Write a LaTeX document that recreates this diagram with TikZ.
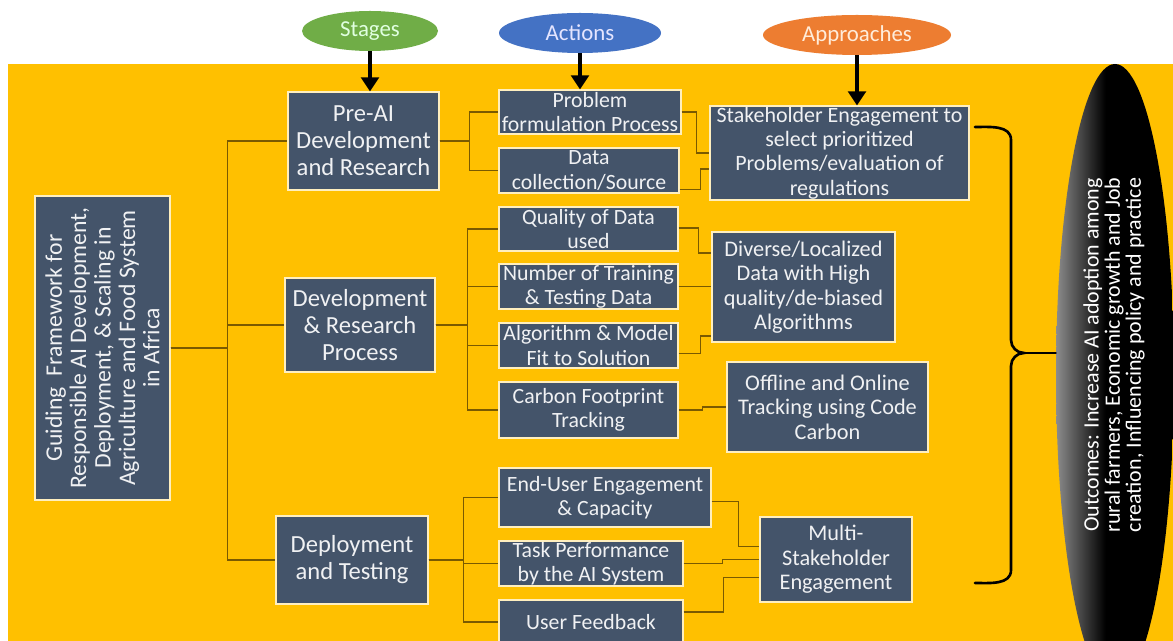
\documentclass[tikz,border=0pt]{standalone}
\usepackage{fontspec}
\setmainfont{Carlito}
\usetikzlibrary{arrows.meta,shapes.geometric}
\definecolor{bgorange}{HTML}{FFC000}
\definecolor{slate}{HTML}{44546A}
\definecolor{linkbrown}{HTML}{7A5A00}
\definecolor{stagegreen}{HTML}{70AD47}
\definecolor{actionblue}{HTML}{4472C4}
\definecolor{approachorange}{HTML}{ED7D31}
\pgfdeclarehorizontalshading{outshade}{100bp}{color(0bp)=(black!45); color(25bp)=(black!45);
  color(46bp)=(black); color(100bp)=(black)}
\tikzset{
  wh/.style 2 args={minimum width=#1*0.02cm, minimum height=#2*0.02cm},
  box/.style={draw=white!75!bgorange, line width=0.6pt, fill=slate, text=white!92!slate,
    align=center, inner sep=0pt, font=\fontsize{12.4}{13.7}\selectfont},
  stagebox/.style={box, font=\fontsize{14}{15.4}\selectfont},
  appbox/.style={box, font=\fontsize{12.7}{13.9}\selectfont},
  tag/.style={ellipse, inner sep=0pt, font=\fontsize{13}{14}\selectfont},
  link/.style={draw=linkbrown, line width=0.8pt},
  down/.style={-{Triangle[length=8pt,width=10pt]}, line width=2.2pt},
  brace/.style={line width=1.5pt, line cap=round},
}
\begin{document}
\begin{tikzpicture}[x=0.02cm, y=-0.02cm]
\clip (0,0) rectangle (1173,641);
\fill[white] (0,0) rectangle (1173,641);
\fill[bgorange] (8,64) rectangle (1173,641);

% outcome ellipse on the right
\node[ellipse, wh={118}{622}, shading=outshade] (outcome) at (1115,375) {};
\node[rotate=90, align=center, text=white, font=\fontsize{12.5}{12}\selectfont] (outtext) at (1114,355)
  {Outcomes: Increase AI adoption among\\rural farmers, Economic growth and Job\\creation, Influencing policy and practice};

% column headers
\node[tag, wh={136}{40}, fill=stagegreen, text=green!12!white] (stages) at (370,31) {Stages};
\node[tag, wh={162}{40}, fill=actionblue, text=blue!10!white] (actions) at (580,33) {Actions};
\node[tag, wh={188}{40}, fill=approachorange, text=orange!15!white] (approaches) at (857,35) {Approaches};

% stages
\node[box, rotate=90, wh={304}{135}, font=\fontsize{13.5}{13.9}\selectfont] (main) at (102.5,348)
  {Guiding\ \ Framework for\\Responsible AI Development,\\Deployment, \& Scaling in\\Agriculture and Food System\\in Africa};
\node[stagebox, wh={151}{98}] (preai) at (363.5,141) {Pre-AI\\Development\\and Research};
\node[stagebox, wh={150}{94}] (devres) at (360,325) {Development\\\& Research\\Process};
\node[stagebox, wh={152}{88}] (deploy) at (352,560) {Deployment\\and Testing};

% actions
\node[box, wh={182}{44}] (prob) at (590,112) {Problem\\formulation Process};
\node[box, wh={180}{45}] (data) at (589,170.5) {Data\\collection/Source};
\node[box, wh={179}{44}] (qual) at (588.5,229) {Quality of Data\\used};
\node[box, wh={179}{45}] (numb) at (588.5,286.5) {Number of Training\\\& Testing Data};
\node[box, wh={179}{45}] (algo) at (588.5,345.5) {Algorithm \& Model\\Fit to Solution};
\node[box, wh={179}{56}] (carb) at (588.5,410) {Carbon Footprint\\Tracking};
\node[box, wh={212}{59}] (endu) at (605,497.5) {End-User Engagement\\\& Capacity};
\node[box, wh={184}{45}] (task) at (591,563.5) {Task Performance\\by the AI System};
\node[box, wh={184}{44}] (feed) at (591,622) {User Feedback};

% approaches
\node[appbox, wh={259}{94}, font=\fontsize{12.5}{13.9}\selectfont] (stake) at (839.5,153)
  {Stakeholder Engagement to\\select prioritized\\Problems/evaluation of\\regulations};
\node[appbox, wh={183}{110}] (diverse) at (803.5,287)
  {Diverse/Localized\\Data with High\\quality/de-biased\\Algorithms};
\node[appbox, wh={201}{90}] (offline) at (827.5,407)
  {Offline and Online\\Tracking using Code\\Carbon};
\node[appbox, wh={152}{85}] (multi) at (836,559.5) {Multi-\\Stakeholder\\Engagement};

\draw[down] (stages.south) -- (stages.south |- preai.north);
\draw[down] (actions.south) -- (actions.south |- prob.north);
\draw[down] (approaches.south) -- (approaches.south |- stake.north);

% tree
\draw[link] (main.south) -- ++(57,0) |- (preai.west);
\draw[link] (main.south) -- ++(57,0) |- (devres.west);
\draw[link] (main.south) -- ++(57,0) |- (deploy.west);
\draw[link] (preai.east) -- ++(30,0) |- (prob.west);
\draw[link] (preai.east) -- ++(30,0) |- (data.west);
\foreach \n in {qual,numb,algo,carb}
  \draw[link] (devres.east) -- ++(32,0) |- (\n.west);
\foreach \n in {endu,task,feed}
  \draw[link] (deploy.east) -- ++(35,0) |- (\n.west);

% actions to approaches
\draw[link] (prob.east) -- ++(15,0) |- (stake.west);
\draw[link] ([shift={(0,19)}]data.east) -- ++(21,0) |- ([shift={(0,16)}]stake.west);
\draw[link] ([shift={(0,-1)}]qual.east) -- ++(20,0) |- ([shift={(0,-34)}]diverse.west);
\draw[link] (numb.east) -- (numb.east -| diverse.west);
\draw[link] ([shift={(0,8)}]algo.east) -- ++(22,0) |- ([shift={(0,49)}]diverse.west);
\draw[link] (carb.east) -- ++(24,0) |- (offline.west);
\draw[link] ([shift={(0,4)}]endu.east) -- ++(27,0) |- ([shift={(0,-13)}]multi.west);
\draw[link] (task.east) -- ++(39,0) |- (multi.west);
\draw[link] ([shift={(0,-10)}]feed.east) -- ++(40,0) |- ([shift={(0,18)}]multi.west);

% brace to outcomes
\coordinate (btop) at (975,127);
\coordinate (bbot) at (975,583);
\coordinate (btip) at (1024,353);
\draw[brace] (btop) to[out=0,in=90] (1011,140) -- (1011,340) to[out=-90,in=180] (btip)
  to[out=180,in=90] (1011,366) -- (1011,570) to[out=-90,in=0] (bbot);
\draw[brace] (btip) -- (outcome.west |- btip);
\end{tikzpicture}
\end{document}
